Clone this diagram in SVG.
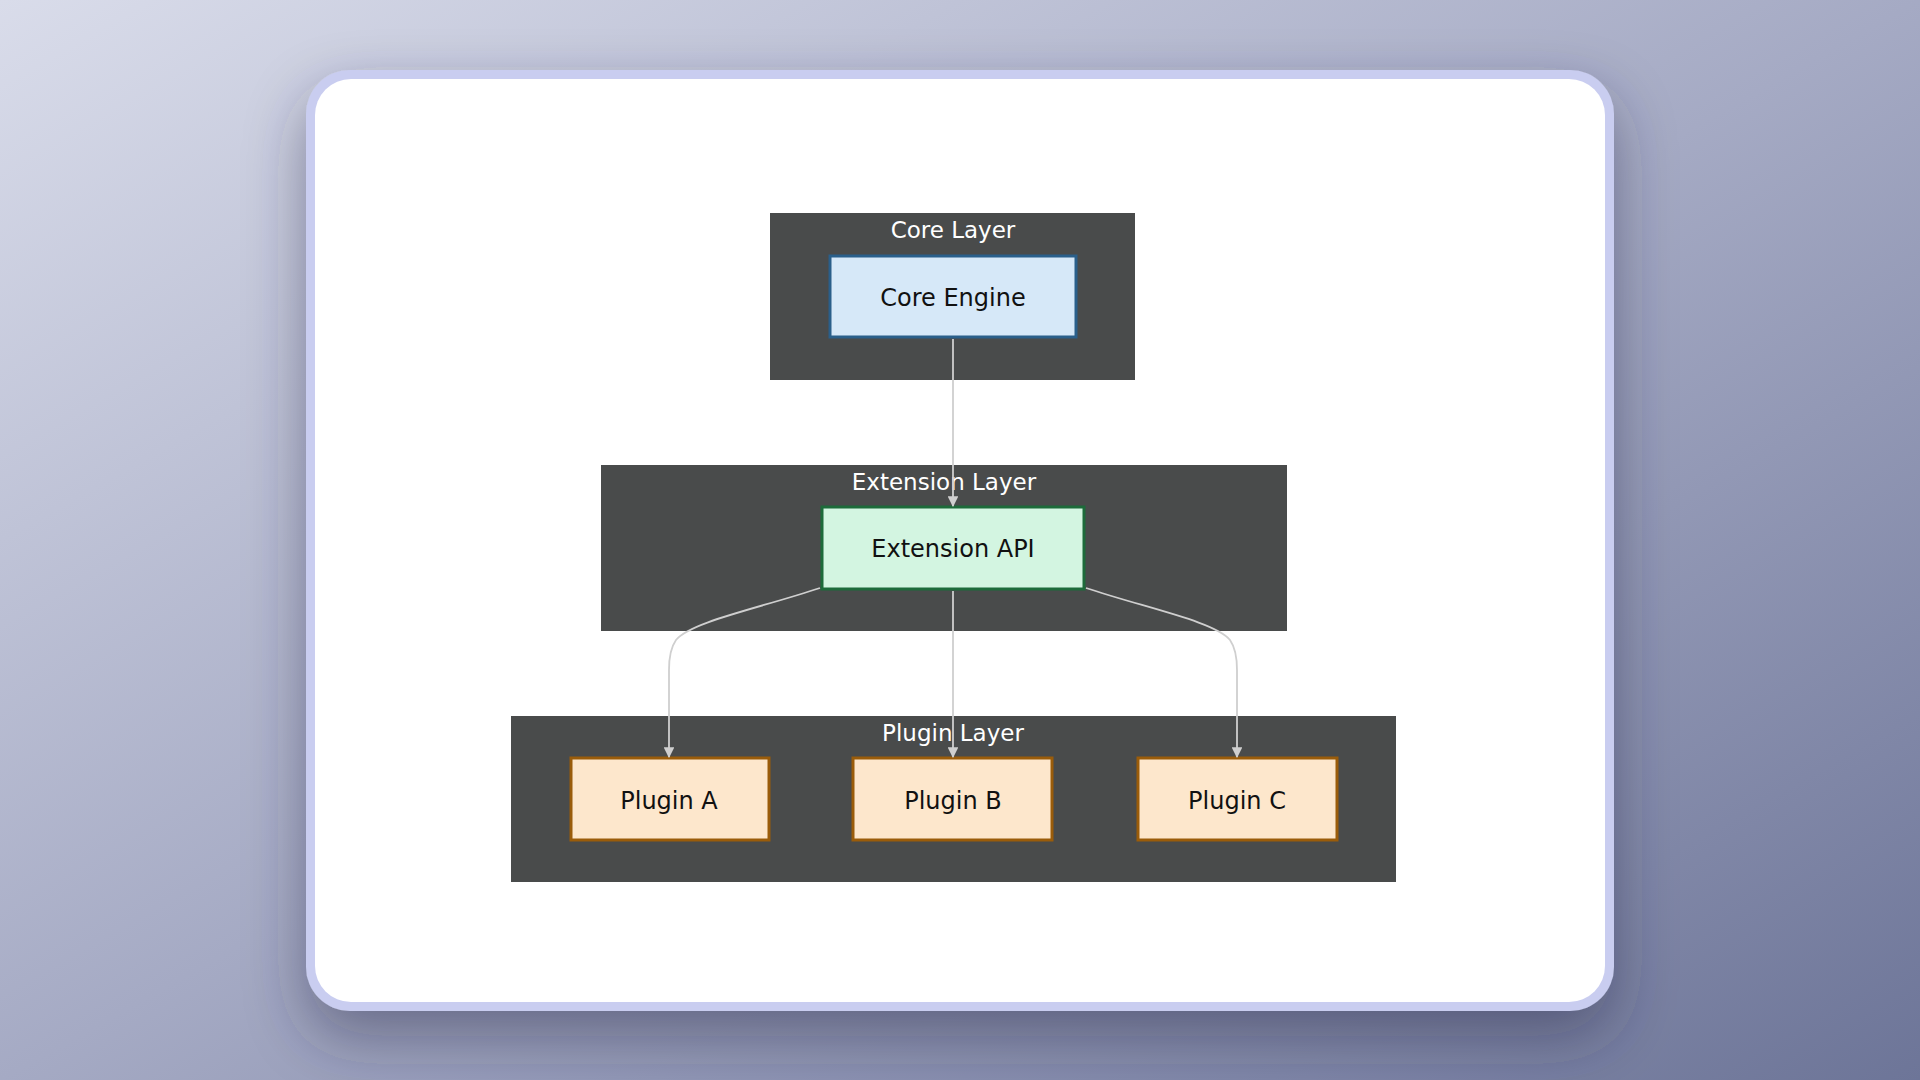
<svg xmlns="http://www.w3.org/2000/svg" width="1920" height="1080" viewBox="0 0 1920 1080">
<defs>
<linearGradient id="bg" x1="0" y1="0" x2="1" y2="1"><stop offset="0" stop-color="#d9dcea"/><stop offset="0.5" stop-color="#a5aac4"/><stop offset="1" stop-color="#6d7598"/></linearGradient>
<filter id="sh" x="-20%" y="-20%" width="140%" height="150%"><feDropShadow dx="0" dy="25" stdDeviation="30" flood-color="#2a2f4a" flood-opacity="0.45"/></filter>
<marker id="ah" viewBox="0 0 10 10" refX="9" refY="5" markerWidth="6" markerHeight="6" orient="auto"><path d="M0,0L10,5L0,10z" fill="#cfcfcf"/></marker>
<style>
.cl{fill:#494b4b}
.ct{font-family:"DejaVu Sans",sans-serif;font-size:23px;fill:#ffffff;text-anchor:middle}
.nt{font-family:"DejaVu Sans",sans-serif;font-size:24px;fill:#111;text-anchor:middle}
.e{fill:none;stroke:#cfcfcf;stroke-width:1.8;marker-end:url(#ah)}
.p{fill:#fde7cc;stroke:#9a5c0a;stroke-width:3}
</style>
</defs>
<rect width="1920" height="1080" fill="url(#bg)"/>
<rect x="306" y="70" width="1308" height="941" rx="44" fill="#c9cdf0" filter="url(#sh)"/>
<rect x="315" y="79" width="1290" height="923" rx="36" fill="#ffffff"/>
<g id="core-layer"><rect class="cl" x="770" y="213" width="365" height="167"/><text class="ct" x="953" y="238">Core Layer</text></g>
<g id="extension-layer"><rect class="cl" x="601" y="465" width="686" height="166"/><text class="ct" x="944" y="490">Extension Layer</text></g>
<g id="plugin-layer"><rect class="cl" x="511" y="716" width="885" height="166"/><text class="ct" x="953" y="741">Plugin Layer</text></g>
<g id="core-engine"><rect x="830" y="256" width="246" height="81" fill="#d6e8f8" stroke="#2a5f8a" stroke-width="3"/><text class="nt" x="953" y="306">Core Engine</text></g>
<g id="extension-api"><rect x="822" y="507" width="262" height="82" fill="#d3f5e1" stroke="#1d6b3a" stroke-width="3"/><text class="nt" x="953" y="557">Extension API</text></g>
<g id="plugin-a"><rect class="p" x="571" y="758" width="198" height="82"/><text class="nt" x="669" y="809">Plugin A</text></g>
<g id="plugin-b"><rect class="p" x="853" y="758" width="199" height="82"/><text class="nt" x="953" y="809">Plugin B</text></g>
<g id="plugin-c"><rect class="p" x="1138" y="758" width="199" height="82"/><text class="nt" x="1237" y="809">Plugin C</text></g>
<g id="connectors">
<path class="e" d="M953,339V506"/>
<path class="e" d="M820,588C760,608 690,622 676,640Q669,650 669,670V757"/>
<path class="e" d="M953,591V757"/>
<path class="e" d="M1086,588C1146,608 1216,622 1230,640Q1237,650 1237,670V757"/>
</g>
</svg>
